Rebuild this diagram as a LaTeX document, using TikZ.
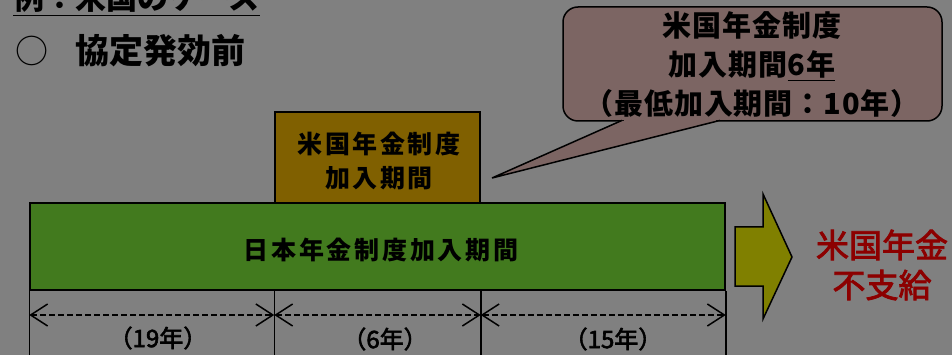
\documentclass[tikz,border=0pt]{standalone}
\usepackage{fontspec}
\newfontfamily\jp{Noto Sans CJK JP}
\newfontfamily\jpm{Noto Sans CJK JP}[FakeBold=2.5]
\usetikzlibrary{arrows.meta}
\definecolor{bg}{RGB}{128,128,128}
\definecolor{greenbar}{RGB}{66,122,30}
\definecolor{brownbox}{RGB}{128,96,0}
\definecolor{olivearrow}{RGB}{128,128,0}
\definecolor{cfill}{RGB}{124,101,99}
\definecolor{redtxt}{RGB}{140,0,0}
\begin{document}
\begin{tikzpicture}[x=1pt,y=-1pt,
  every node/.style={inner sep=0pt},
  boxline/.style={draw=black, line width=1.5pt},
  tickline/.style={draw=black, line width=1.5pt},
  spanarrow/.style={draw=black, line width=1.8pt, dash pattern=on 6pt off 3pt,
     {Straight Barb[length=17pt,width=22pt,line width=1.5pt]}-{Straight Barb[length=17pt,width=22pt,line width=1.5pt]}},
  spanlabel/.style={font=\jpm\fontsize{24}{24}\selectfont},
]
\fill[bg] (0,0) rectangle (952,355);
\useasboundingbox (0,0) rectangle (952,355);

% title (cut off at the top)
\node[anchor=base west, font=\jp\bfseries\fontsize{31}{31}\selectfont] (ttl) at (13,10) {例：米国のケース};
\draw[line width=1.5pt] ([yshift=-5.5pt]ttl.base west) -- ([yshift=-5.5pt]ttl.base east);

% heading
\node[font=\jp\fontsize{33}{33}\selectfont] (circ) at (32,51) {○};
\node[anchor=west, font=\jp\bfseries\fontsize{34}{34}\selectfont] (hd) at (75,51) {協定発効前};

% callout
\node[boxline, fill=cfill, rounded corners=15pt, minimum width=379, minimum height=114] (cb) at (752.5,64) {};
\fill[cfill] (622,121) -- (492,178) -- (720,121) -- cycle;
\fill[cfill] (624,119.4) rectangle (716,122.2);
\draw[line width=1.5pt, line join=miter] (622,120.4) -- (492,178) -- (720,120.4);
\node[align=center, font=\jp\bfseries\fontsize{29}{39}\selectfont\addfontfeature{LetterSpace=3}] (ctext) at (752,65)
  {米国年金制度\\加入期間\underline{6年}\\（最低加入期間：10年）};

% US period box
\node[boxline, fill=brownbox, minimum width=205, minimum height=91] (us) at (377.5,157.5) {};
\node[align=center, font=\jp\bfseries\fontsize{25}{34}\selectfont\addfontfeature{LetterSpace=10}] (ustext) at (379,161)
  {米国年金制度\\加入期間};

% Japan period bar
\node[boxline, fill=greenbar, minimum width=695, minimum height=87] (jp) at (377.5,246.5) {};
\node[font=\jp\bfseries\fontsize{25}{25}\selectfont\addfontfeature{LetterSpace=11}] (jptext) at (381,250) {日本年金制度加入期間};

% block arrow
\filldraw[fill=olivearrow, draw=black, line width=1.5pt, line join=miter]
  (735,227) -- (763,227) -- (763,194) -- (792,257) -- (763,319) -- (763,286) -- (735,286) -- cycle;

% result
\node[align=center, text=redtxt, font=\jpm\fontsize{33}{40}\selectfont] (nopay) at (882,265) {米国年金\\不支給};

% ticks
\coordinate (bot) at (0,357);
\coordinate (ay) at (0,315);
\draw[tickline] (jp.south west) -- (jp.south west |- bot);
\draw[tickline] (us.west |- jp.south) -- (us.west |- bot);
\draw[tickline] (us.east |- jp.south) -- (us.east |- bot);
\draw[tickline] (jp.south east) -- (jp.south east |- bot);

% spans
\draw[spanarrow] (jp.west |- ay) -- (us.west |- ay);
\draw[spanarrow] (us.west |- ay) -- (us.east |- ay);
\draw[spanarrow] (us.east |- ay) -- (jp.east |- ay);
\node[spanlabel] (l1) at (158,338) {（19年）};
\node[spanlabel] (l2) at (385,339) {（6年）};
\node[spanlabel] (l3) at (613,339) {（15年）};
\end{tikzpicture}
\end{document}
